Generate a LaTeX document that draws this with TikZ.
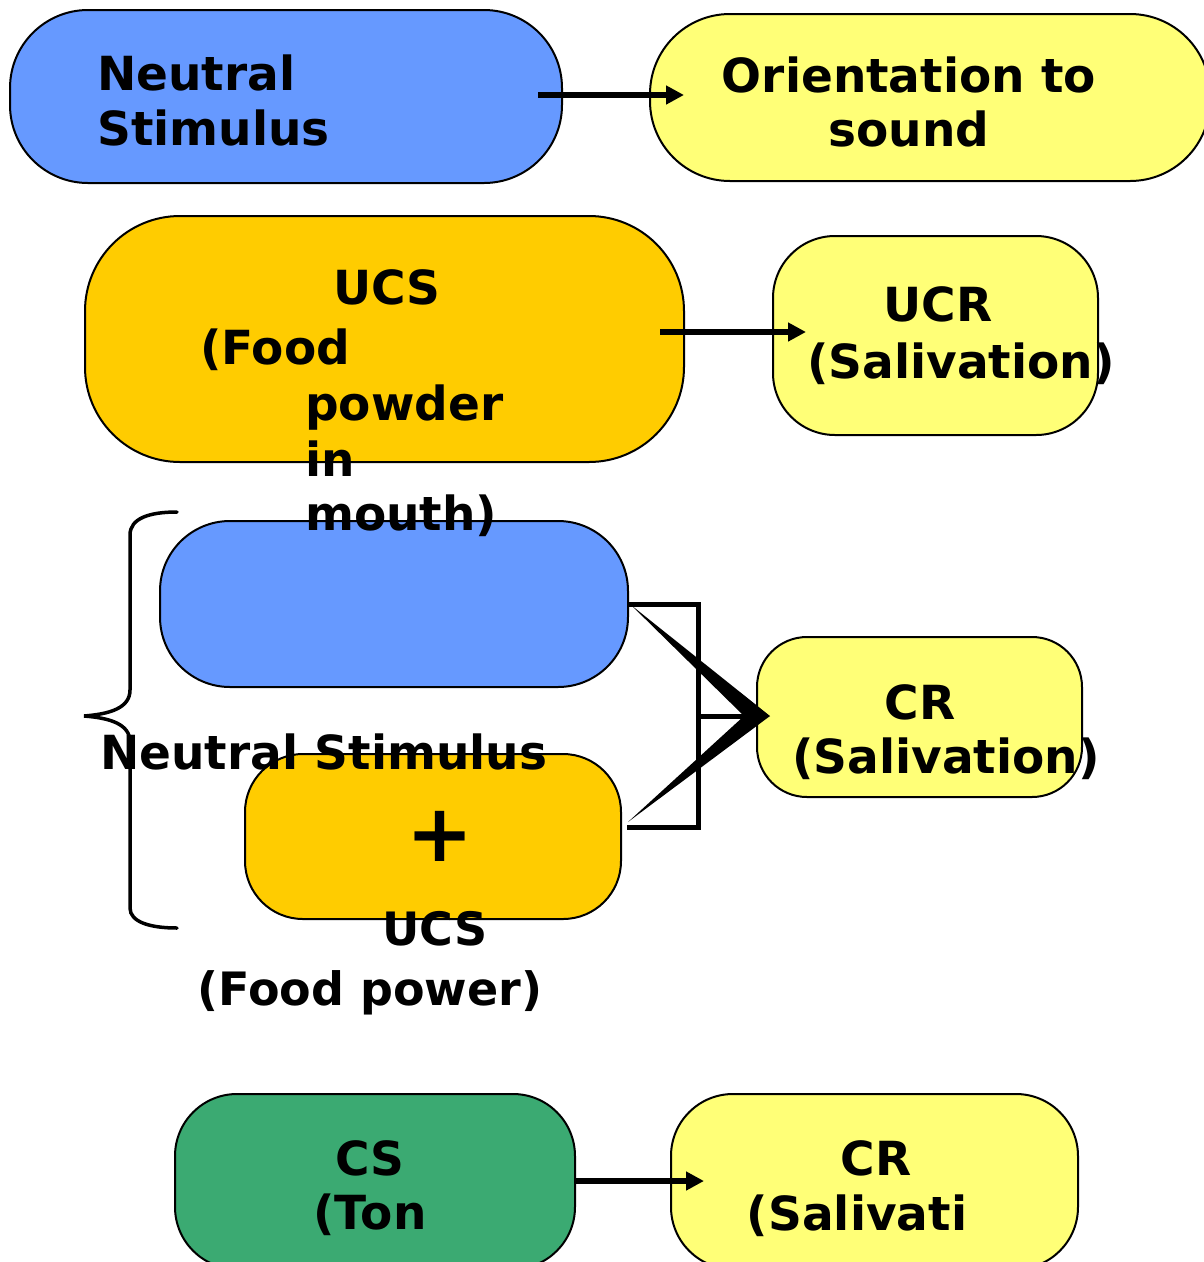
\documentclass[tikz,border=0pt]{standalone}
\usepackage{fontspec}
\setmainfont{DejaVu Sans}
\usetikzlibrary{arrows.meta}
\definecolor{cblue}{HTML}{6699FF}
\definecolor{cyel}{HTML}{FFFF77}
\definecolor{corange}{HTML}{FFCC00}
\definecolor{cgreen}{HTML}{3BAA72}
\tikzset{
  pill/.style={draw=black, line width=2pt, inner sep=0pt, rectangle},
  lbl/.style={inner sep=0pt, font=\bfseries\fontsize{47}{56}\selectfont},
  conn/.style={line width=6.5pt, -{Triangle[length=18pt,width=18pt]}},
}
\begin{document}
\begin{tikzpicture}[x=1pt,y=-1pt]
\useasboundingbox (0,0) rectangle (1204,1262);
\clip (0,0) rectangle (1204,1262);
% shapes
\node[pill, fill=cblue, rounded corners=78pt, minimum width=552pt, minimum height=173pt] (ns1) at (286,96.5) {};
\node[pill, fill=cyel, rounded corners=80pt, minimum width=560pt, minimum height=167pt] (or) at (930,97.5) {};
\node[pill, fill=corange, rounded corners=95pt, minimum width=599pt, minimum height=246pt] (ucs1) at (384.5,339) {};
\node[pill, fill=cyel, rounded corners=62pt, minimum width=325pt, minimum height=199pt] (ucr) at (935.5,335.5) {};
\node[pill, fill=cblue, rounded corners=70pt, minimum width=468pt, minimum height=166pt] (ns2) at (394,604) {};
\node[pill, fill=corange, rounded corners=58pt, minimum width=376pt, minimum height=165pt] (ucs2) at (433,836.5) {};
\node[pill, fill=cyel, rounded corners=50pt, minimum width=325pt, minimum height=160pt] (cr1) at (919.5,717) {};
\node[pill, fill=cgreen, rounded corners=62pt, minimum width=400pt, minimum height=175pt] (cs) at (375,1181.5) {};
\node[pill, fill=cyel, rounded corners=62pt, minimum width=407pt, minimum height=175pt] (cr2) at (874.5,1181.5) {};
% coordinates for connectors
\coordinate (a1s) at (538,95); \coordinate (a1e) at (684,95);
\coordinate (a2s) at (660,332); \coordinate (a2e) at (806,332);
\coordinate (a3s) at (575,1181); \coordinate (a3e) at (704,1181);
\draw[conn] (a1s) -- (a1e);
\draw[conn] (a2s) -- (a2e);
\draw[conn] (a3s) -- (a3e);
% bracket connector
\coordinate (bt) at (628,604); \coordinate (bb) at (627,827);
\coordinate (tip) at (770,716);
\draw[line width=5pt, line join=miter] (bt) -- (698,604) -- (698,827) -- (bb);
\draw[line width=5pt] (698,716) -- (755,716);
\fill (631,605) -- (tip) -- (744,716) -- cycle;
\fill (628,822) -- (tip) -- (744,716) -- cycle;
% brace
\draw[line width=3.5pt, line cap=round] (177,512) .. controls (150,512) and (130,518) .. (130,535)
  -- (130,690) .. controls (130,708) and (110,714) .. (84,716)
  .. controls (110,718) and (130,724) .. (130,742) -- (130,908)
  .. controls (130,922) and (150,928) .. (177,928);
% texts
\node[lbl, anchor=base west] (t1) at (97,90) {Neutral};
\node[lbl, anchor=base west] (t2) at (97,145) {Stimulus};
\node[lbl, anchor=base] (t3) at (909,92) {Orientation to};
\node[lbl, anchor=base] (t4) at (909,146) {sound};
\node[lbl, anchor=base] (t5) at (387,304) {UCS};
\node[lbl, anchor=base west] (t6) at (200,364) {(Food};
\node[lbl, anchor=base west] (t7) at (305,420) {powder};
\node[lbl, anchor=base west] (t8) at (305,476) {in};
\node[lbl, anchor=base west] (t9) at (305,530) {mouth)};
\node[lbl, anchor=base] (t10) at (938,321) {UCR};
\node[lbl, anchor=base west] (t11) at (807,378) {(Salivation)};
\node[lbl, anchor=base west] (t12) at (100,769) {Neutral Stimulus};
\node[inner sep=0pt, font=\bfseries\fontsize{80}{90}\selectfont] (t13) at (440,836) {+};
\node[lbl, anchor=base, font=\bfseries\fontsize{46}{56}\selectfont] (t14) at (435,945) {UCS};
\node[lbl, anchor=base, font=\bfseries\fontsize{46}{56}\selectfont] (t15) at (370,1005) {(Food power)};
\node[lbl, anchor=base] (t16) at (920,719) {CR};
\node[lbl, anchor=base west] (t17) at (792,773) {(Salivation)};
\node[lbl, anchor=base] (t18) at (370,1175) {CS};
\node[lbl, anchor=base] (t19) at (370,1229) {(Ton};
\node[lbl, anchor=base] (t20) at (876,1175) {CR};
\node[lbl, anchor=base] (t21) at (857,1230) {(Salivati};
\end{tikzpicture}
\end{document}
